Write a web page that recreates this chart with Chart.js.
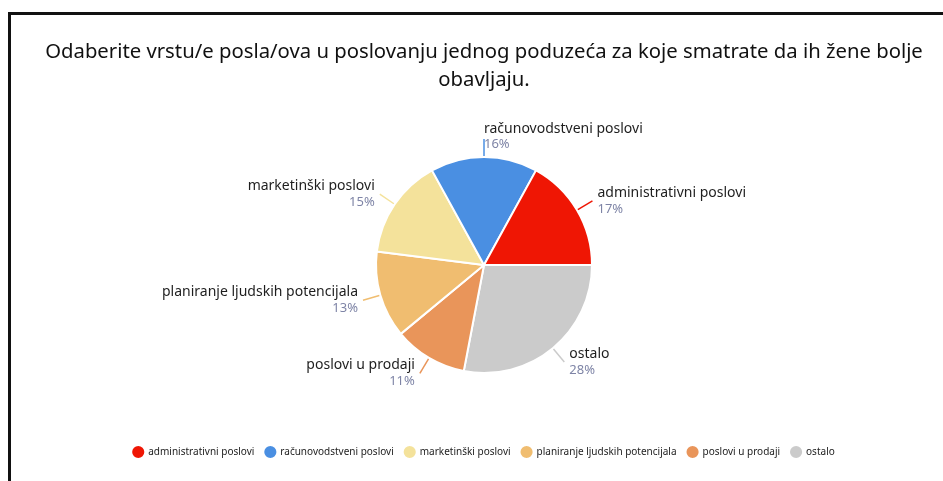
<!DOCTYPE html>
<html>
<head>
<meta charset="utf-8">
<script src="https://cdn.jsdelivr.net/npm/chart.js@4.4.1/dist/chart.umd.min.js"></script>
<style>
  html, body { margin: 0; padding: 0; background: #fff; }
  #wrap { position: absolute; left: 0; top: 0; width: 943px; height: 481px; overflow: hidden; }
  #frameTop { position: absolute; left: 8px; top: 12px; width: 935px; height: 3px; background: #111; }
  #frameLeft { position: absolute; left: 8px; top: 12px; width: 3px; height: 469px; background: #111; }
</style>
</head>
<body>
<div id="wrap">
  <canvas id="chartPie" width="943" height="481"></canvas>
  <div id="frameTop"></div>
  <div id="frameLeft"></div>
</div>
<script>
// ── podaci ─────────────────────────────────────
const kategorije = ['administrativni poslovi', 'računovodstveni poslovi', 'marketinški poslovi',
                    'planiranje ljudskih potencijala', 'poslovi u prodaji', 'ostalo'];
const postoci    = [17, 16, 15, 13, 11, 28];
const boje       = ['#ef1604', '#4a8fe2', '#f4e29b', '#f0bd70', '#e9955a', '#cbcbcb'];
const naslov     = ['Odaberite vrstu/e posla/ova u poslovanju jednog poduzeća za koje smatrate da ih žene bolje',
                    'obavljaju.'];

// original draws counter-clockwise from 3 o'clock; Chart.js goes clockwise, so flip order
const kat  = kategorije.slice().reverse();
const vals = postoci.slice().reverse();
const bg   = boje.slice().reverse();

const FONT = '"Noto Sans", "Open Sans", sans-serif';

const outsideLabels = {
  id: 'outside-labels',
  afterDatasetsDraw(chart) {
    const c = chart.ctx;
    const meta = chart.getDatasetMeta(0);
    c.save();
    meta.data.forEach((arc, i) => {
      const mid = (arc.startAngle + arc.endAngle) / 2;
      const r = arc.outerRadius;
      const cos = Math.cos(mid), sin = Math.sin(mid);
      const x1 = arc.x + cos * (r + 1), y1 = arc.y + sin * (r + 1);
      const x2 = arc.x + cos * (r + 18), y2 = arc.y + sin * (r + 18);
      c.beginPath();
      c.strokeStyle = bg[i];
      c.lineWidth = 1.5;
      c.moveTo(x1, y1);
      c.lineTo(x2, y2);
      c.stroke();

      let tx = x2, align = 'left';
      if (cos > 0.15) { tx = x2 + 5; align = 'left'; }
      else if (cos < -0.15) { tx = x2 - 5; align = 'right'; }
      const top = sin < -0.9;
      c.textAlign = align;
      c.textBaseline = 'middle';
      c.font = '14px ' + FONT;
      c.fillStyle = '#1e1e1e';
      c.fillText(kat[i], tx, y2 + (top ? -10 : -8));
      c.font = '13px ' + FONT;
      c.fillStyle = '#7e84a6';
      c.fillText(vals[i] + '%', tx, y2 + (top ? 5 : 8));
    });
    c.restore();
  }
};

new Chart(document.getElementById('chartPie'), {
  type: 'pie',
  data: {
    labels: kat,
    datasets: [{
      data: vals,
      backgroundColor: bg,
      borderColor: '#ffffff',
      borderWidth: 2,
      radius: 108
    }]
  },
  options: {
    responsive: false,
    animation: false,
    rotation: 90,
    layout: { padding: { left: 25, right: 0, top: 0, bottom: 14 } },
    plugins: {
      title: {
        display: true,
        text: naslov,
        color: '#111',
        font: { family: FONT, size: 20.3, weight: 'normal', lineHeight: 1.38 },
        padding: { top: 38, bottom: 0 }
      },
      legend: {
        position: 'bottom',
        reverse: true,
        labels: {
          usePointStyle: true,
          pointStyle: 'circle',
          boxWidth: 10,
          boxHeight: 10,
          padding: 11,
          color: '#222',
          font: { family: FONT, size: 10 }
        }
      },
      tooltip: { enabled: false }
    }
  },
  plugins: [outsideLabels]
});
</script>
</body>
</html>
